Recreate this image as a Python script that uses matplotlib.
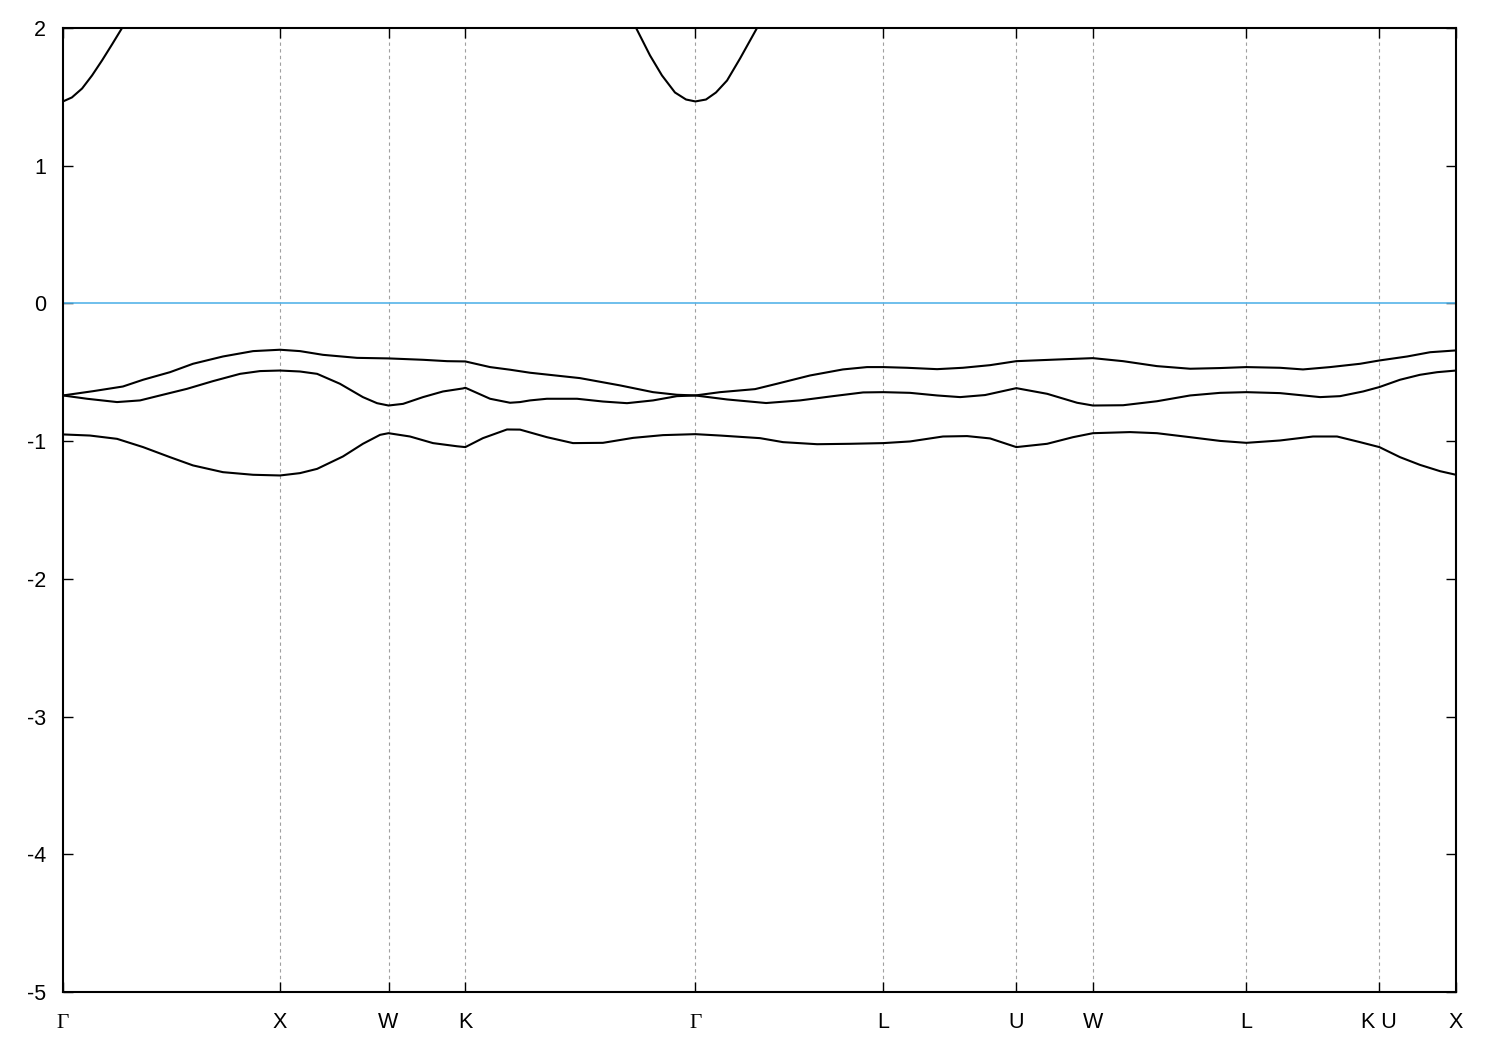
import matplotlib
matplotlib.use("Agg")
import matplotlib.pyplot as plt

# high-symmetry points along the fcc path (units of 2pi/a)
kpts = [0.0, 1.0, 1.5, 1.8536, 2.9142, 3.7802, 4.3926, 4.7462, 5.4533, 6.0657, 6.4193]
klabels = ["Γ", "X", "W", "K", "Γ", "L", "U", "W", "L", "K U", "X"]

# lowest valence band
k1 = [0.0, 0.124, 0.249, 0.369, 0.493, 0.599, 0.737, 0.876, 1.0, 1.092, 1.171, 1.290,
      1.382, 1.461, 1.5, 1.599, 1.705, 1.816, 1.854, 1.935, 2.046, 2.106, 2.230, 2.350,
      2.488, 2.627, 2.765, 2.914, 3.028, 3.212, 3.318, 3.475, 3.627, 3.780, 3.903, 4.055,
      4.166, 4.272, 4.393, 4.535, 4.654, 4.746, 4.917, 5.041, 5.194, 5.332, 5.453, 5.608,
      5.760, 5.871, 5.977, 6.066, 6.161, 6.253, 6.346, 6.419]
e1 = [-0.951, -0.959, -0.983, -1.043, -1.116, -1.176, -1.225, -1.244, -1.249, -1.232, -1.201, -1.111,
      -1.019, -0.954, -0.942, -0.966, -1.014, -1.037, -1.043, -0.978, -0.915, -0.916, -0.971, -1.014,
      -1.012, -0.976, -0.956, -0.949, -0.959, -0.978, -1.007, -1.022, -1.019, -1.014, -1.002, -0.966,
      -0.963, -0.980, -1.043, -1.019, -0.971, -0.942, -0.934, -0.942, -0.971, -0.998, -1.012, -0.995,
      -0.966, -0.966, -1.007, -1.043, -1.116, -1.172, -1.218, -1.244]

# middle valence band
k2 = [0.0, 0.111, 0.249, 0.355, 0.447, 0.571, 0.691, 0.816, 0.908, 1.0, 1.092, 1.171,
      1.276, 1.382, 1.447, 1.5, 1.567, 1.659, 1.751, 1.843, 1.854, 1.968, 2.060, 2.106,
      2.152, 2.230, 2.369, 2.488, 2.599, 2.719, 2.829, 2.914, 3.060, 3.240, 3.396, 3.548,
      3.687, 3.780, 3.903, 4.028, 4.134, 4.249, 4.393, 4.535, 4.673, 4.746, 4.885, 5.041,
      5.194, 5.332, 5.453, 5.608, 5.793, 5.885, 5.991, 6.066, 6.161, 6.253, 6.332, 6.419]
e2 = [-0.668, -0.692, -0.716, -0.704, -0.668, -0.620, -0.564, -0.511, -0.491, -0.487, -0.494, -0.511,
      -0.583, -0.680, -0.724, -0.741, -0.729, -0.680, -0.639, -0.617, -0.612, -0.692, -0.721, -0.716,
      -0.704, -0.692, -0.692, -0.712, -0.724, -0.704, -0.673, -0.668, -0.697, -0.723, -0.704, -0.673,
      -0.646, -0.644, -0.649, -0.668, -0.680, -0.665, -0.615, -0.656, -0.721, -0.741, -0.739, -0.710,
      -0.668, -0.649, -0.644, -0.651, -0.680, -0.673, -0.639, -0.607, -0.554, -0.518, -0.499, -0.487]

# top valence band
k3 = [0.0, 0.138, 0.276, 0.369, 0.493, 0.599, 0.737, 0.876, 1.0, 1.092, 1.198, 1.355,
      1.5, 1.659, 1.770, 1.854, 1.968, 2.060, 2.152, 2.382, 2.567, 2.719, 2.829, 2.914,
      3.028, 3.189, 3.290, 3.442, 3.594, 3.705, 3.780, 3.889, 4.028, 4.147, 4.272, 4.393,
      4.581, 4.746, 4.885, 5.041, 5.194, 5.332, 5.453, 5.608, 5.714, 5.839, 5.977, 6.066,
      6.194, 6.300, 6.419]
e3 = [-0.668, -0.637, -0.603, -0.554, -0.499, -0.438, -0.385, -0.346, -0.336, -0.346, -0.373, -0.395,
      -0.399, -0.409, -0.419, -0.421, -0.462, -0.481, -0.503, -0.542, -0.595, -0.644, -0.663, -0.668,
      -0.644, -0.622, -0.583, -0.523, -0.479, -0.462, -0.462, -0.467, -0.477, -0.467, -0.448, -0.419,
      -0.407, -0.397, -0.419, -0.455, -0.474, -0.469, -0.462, -0.467, -0.479, -0.462, -0.438, -0.414,
      -0.385, -0.354, -0.341]

# conduction band (only the parts inside the window)
kc_a = [0.0, 0.041, 0.088, 0.134, 0.180, 0.226, 0.272]
ec_a = [1.467, 1.496, 1.561, 1.656, 1.765, 1.881, 2.0]
kc_b = [2.641, 2.705, 2.760, 2.820, 2.871, 2.914, 2.963, 3.009, 3.060, 3.120, 3.198]
ec_b = [2.0, 1.801, 1.656, 1.532, 1.481, 1.467, 1.481, 1.532, 1.619, 1.779, 2.0]

e_fermi = 0.0

plt.rcParams['font.family'] = ['Liberation Sans', 'DejaVu Sans']
plt.rcParams['axes.unicode_minus'] = False

fig = plt.figure(figsize=(15, 10.5), dpi=100)
ax = fig.add_axes([0.042, 0.0552, 0.9287, 0.9181])

for k in kpts[1:-1]:
    ax.axvline(k, color='#a0a0a0', lw=0.8, ls=(0, (3, 3)), zorder=1)

ax.axhline(e_fermi, color='#56b4e9', lw=1.2, zorder=2)

for kk, ee in [(k1, e1), (k2, e2), (k3, e3), (kc_a, ec_a), (kc_b, ec_b)]:
    ax.plot(kk, ee, color='black', lw=1.5, zorder=3, solid_joinstyle='round')

ax.set_xlim(kpts[0], kpts[-1])
ax.set_ylim(-5, 2)
ax.set_yticks(range(-5, 3))
ax.set_xticks(kpts)
ax.set_xticklabels(klabels)

ax.tick_params(axis='both', direction='in', length=7.5, width=1.0,
               top=True, right=True, labelsize=15.5)
ax.tick_params(axis='y', pad=12)
ax.tick_params(axis='x', pad=26)
for lab in ax.get_xticklabels():
    lab.set_verticalalignment('baseline')
    if lab.get_text() == "Γ":
        lab.set_family(['Liberation Serif', 'DejaVu Serif'])
for sp in ax.spines.values():
    sp.set_linewidth(1.5)

fig.savefig("out.png", dpi=100)
